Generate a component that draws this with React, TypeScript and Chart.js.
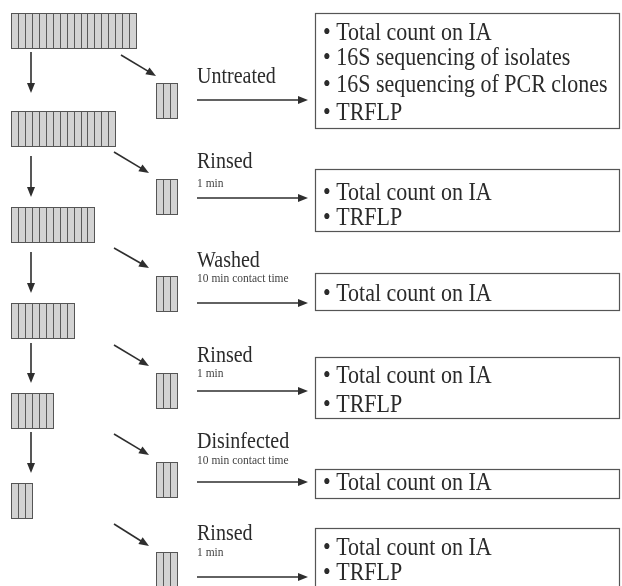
import React, { useEffect, useRef } from "react";
import { Chart, registerables } from "chart.js";

Chart.register(...registerables);

// ---- data ----
const treatments = ["Untreated", "Rinsed", "Washed", "Rinsed", "Disinfected", "Rinsed"];
const contactTimes = ["", "1 min", "10 min contact time", "1 min", "10 min contact time", "1 min"];
const analyses = [
  ["Total count on IA", "16S sequencing of isolates", "16S sequencing of PCR clones", "TRFLP"],
  ["Total count on IA", "TRFLP"],
  ["Total count on IA"],
  ["Total count on IA", "TRFLP"],
  ["Total count on IA"],
  ["Total count on IA", "TRFLP"],
];
const stripSegments = [18, 15, 12, 9, 6, 3];
const sampleSegments = [3, 3, 3, 3, 3, 3];

// ---- layout (diagram coordinates, in value units of the scales) ----
const W = 622;
const H = 586;
const stripX = 11;
const segW = 6.95;
const stripH = 35;
const stripTop = [13, 111, 207, 303, 393, 483];
const sampleX = 156;
const sampleSegW = 7;
const sampleTop = [83, 179, 276, 373, 462, 552];
const downArrows = [[52, 93], [156, 197], [252, 293], [343, 383], [432, 473]];
const downArrowX = 31;
const diagArrows = [
  [121, 55, 156, 76],
  [114, 152, 149, 173],
  [114, 248, 149, 268],
  [114, 345, 149, 366],
  [114, 434, 149, 455],
  [114, 524, 149, 546],
];
const hArrowX = [197, 308];
const hArrowY = [100, 198, 303, 391, 482, 577];
const labelX = 197;
const labelBase = [83, 168, 267, 362, 448, 540];
const subBase = [0, 187, 282, 377, 464, 556];
const boxX = [315, 619];
const boxTop = [13, 169, 273, 357, 469, 528];
const boxBottom = [128, 231, 310, 418, 498, 620];
const lineBase = [[40, 65, 92, 120], [200, 225], [301], [383, 412], [490], [555, 580]];
const bulletX = 323;

const FONT = '"Liberation Serif", "DejaVu Serif", serif';
const STRETCH = 1.14;

const diagramPlugin = {
  id: "diagram",
  afterDraw(chart: any) {
    const ctx: CanvasRenderingContext2D = chart.ctx;
    const xs = chart.scales.x;
    const ys = chart.scales.y;
    const X = (v: number) => xs.getPixelForValue(v);
    const Y = (v: number) => ys.getPixelForValue(v);

    ctx.save();

    const drawStrip = (x0: number, top: number, n: number, sw: number) => {
      const l = Math.round(X(x0)) + 0.5;
      const r = Math.round(X(x0 + n * sw)) + 0.5;
      const t = Math.round(Y(top)) + 0.5;
      const b = Math.round(Y(top + stripH)) + 0.5;
      ctx.fillStyle = "#d3d3d3";
      ctx.fillRect(l, t, r - l, b - t);
      ctx.strokeStyle = "#5a5a5a";
      ctx.lineWidth = 1;
      ctx.beginPath();
      for (let i = 1; i < n; i++) {
        const px = Math.round(X(x0 + i * sw)) + 0.5;
        ctx.moveTo(px, t);
        ctx.lineTo(px, b);
      }
      ctx.stroke();
      ctx.strokeStyle = "#555";
      ctx.strokeRect(l, t, r - l, b - t);
    };

    const drawArrow = (x1: number, y1: number, x2: number, y2: number) => {
      const px1 = X(x1), py1 = Y(y1), px2 = X(x2), py2 = Y(y2);
      const ang = Math.atan2(py2 - py1, px2 - px1);
      const len = 10, hw = 4;
      const bx = px2 - Math.cos(ang) * len;
      const by = py2 - Math.sin(ang) * len;
      ctx.strokeStyle = "#2e2e2e";
      ctx.fillStyle = "#2e2e2e";
      ctx.lineWidth = 1.6;
      ctx.beginPath();
      ctx.moveTo(px1, py1);
      ctx.lineTo(bx + Math.cos(ang) * 2, by + Math.sin(ang) * 2);
      ctx.stroke();
      ctx.beginPath();
      ctx.moveTo(px2, py2);
      ctx.lineTo(bx - Math.sin(ang) * hw, by + Math.cos(ang) * hw);
      ctx.lineTo(bx + Math.sin(ang) * hw, by - Math.cos(ang) * hw);
      ctx.closePath();
      ctx.fill();
    };

    const drawText = (text: string, x: number, base: number, size: number, color: string) => {
      ctx.save();
      ctx.translate(X(x), Y(base));
      ctx.scale(1, STRETCH);
      ctx.font = `${size}px ${FONT}`;
      ctx.fillStyle = color;
      ctx.textAlign = "left";
      ctx.textBaseline = "alphabetic";
      ctx.fillText(text, 0, 0);
      ctx.restore();
    };

    // main strips and down arrows
    stripSegments.forEach((n, i) => drawStrip(stripX, stripTop[i], n, segW));
    downArrows.forEach(([a, b]) => drawArrow(downArrowX, a, downArrowX, b));

    // sample strips and diagonal arrows
    sampleSegments.forEach((n, i) => drawStrip(sampleX, sampleTop[i], n, sampleSegW));
    diagArrows.forEach(([a, b, c, d]) => drawArrow(a, b, c, d));

    // treatments
    treatments.forEach((t, i) => {
      drawText(t, labelX, labelBase[i], 20, "#2b2b2b");
      if (contactTimes[i]) drawText(contactTimes[i], labelX, subBase[i], 11.5, "#444");
      drawArrow(hArrowX[0], hArrowY[i], hArrowX[1], hArrowY[i]);
    });

    // analysis boxes
    analyses.forEach((items, i) => {
      const l = Math.round(X(boxX[0])) + 0.5;
      const r = Math.round(X(boxX[1])) + 0.5;
      const t = Math.round(Y(boxTop[i])) + 0.5;
      const b = Math.round(Y(boxBottom[i])) + 0.5;
      ctx.strokeStyle = "#555";
      ctx.lineWidth = 1.2;
      ctx.strokeRect(l, t, r - l, b - t);
      items.forEach((it, k) => drawText("\u2022 " + it, bulletX, lineBase[i][k], 22, "#2b2b2b"));
    });

    ctx.restore();
  },
};

export default function App() {
  const ref = useRef<HTMLCanvasElement | null>(null);
  useEffect(() => {
    document.body.style.margin = "0";
    const canvas = ref.current;
    if (!canvas) return;
    const chart = new Chart(canvas, {
      type: "scatter",
      data: { datasets: [{ data: [] }] },
      options: {
        animation: false,
        responsive: true,
        maintainAspectRatio: false,
        layout: { padding: 0 },
        plugins: { legend: { display: false }, tooltip: { enabled: false } },
        scales: {
          x: { type: "linear", min: 0, max: W, display: false },
          y: { type: "linear", min: 0, max: H, reverse: true, display: false },
        },
      },
      plugins: [diagramPlugin],
    });
    return () => chart.destroy();
  }, []);
  return (
    <div style={{ position: "absolute", left: 0, top: 0, width: W, height: H, background: "#fff" }}>
      <canvas ref={ref} />
    </div>
  );
}
